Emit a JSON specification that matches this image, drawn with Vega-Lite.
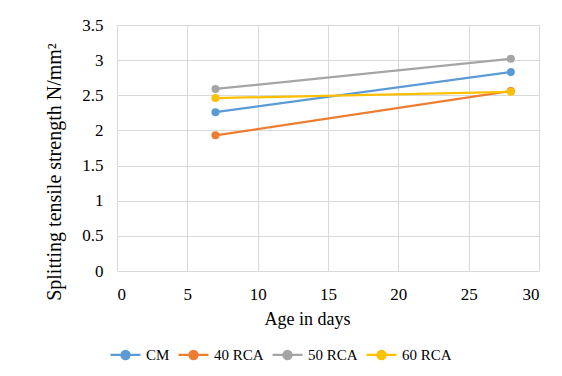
{
  "$schema": "https://vega.github.io/schema/vega-lite/v6.json",
  "width": 422,
  "height": 246,
  "autosize": "none",
  "padding": {"left": 117, "top": 25, "right": 23, "bottom": 105},
  "background": "white",
  "data": {
    "values": [
      {"mix": "CM", "age": 7, "strength": 2.26},
      {"mix": "CM", "age": 28, "strength": 2.83},
      {"mix": "40 RCA", "age": 7, "strength": 1.93},
      {"mix": "40 RCA", "age": 28, "strength": 2.56},
      {"mix": "50 RCA", "age": 7, "strength": 2.59},
      {"mix": "50 RCA", "age": 28, "strength": 3.02},
      {"mix": "60 RCA", "age": 7, "strength": 2.46},
      {"mix": "60 RCA", "age": 28, "strength": 2.55}
    ]
  },
  "mark": {"type": "line", "strokeWidth": 2.25, "point": {"filled": true, "size": 64, "opacity": 1}},
  "encoding": {
    "x": {
      "field": "age",
      "type": "quantitative",
      "scale": {"domain": [0, 30], "nice": false},
      "axis": {
        "values": [0, 5, 10, 15, 20, 25, 30],
        "title": "Age in days",
        "titleFont": "Liberation Serif",
        "titleFontSize": 18,
        "titleBaseline": "alphabetic",
        "titleX": 190,
        "titleY": 53,
        "labelFont": "Liberation Serif",
        "labelFontSize": 17,
        "labelPadding": 15
      }
    },
    "y": {
      "field": "strength",
      "type": "quantitative",
      "scale": {"domain": [0, 3.5], "nice": false},
      "axis": {
        "values": [0, 0.5, 1, 1.5, 2, 2.5, 3, 3.5],
        "format": "~g",
        "title": "Splitting tensile strength N/mm²",
        "titleFont": "Liberation Serif",
        "titleFontSize": 20,
        "titleX": -53,
        "titleY": 146.5,
        "labelFont": "Liberation Serif",
        "labelFontSize": 17,
        "labelPadding": 14
      }
    },
    "color": {
      "field": "mix",
      "type": "nominal",
      "scale": {
        "domain": ["CM", "40 RCA", "50 RCA", "60 RCA"],
        "range": ["#5B9BD5", "#ED7D31", "#A5A5A5", "#FFC000"]
      },
      "legend": {
        "title": null,
        "orient": "none",
        "direction": "horizontal",
        "legendX": -8,
        "legendY": 313,
        "symbolType": "M-1,0H1M-0.27,0A0.27,0.27 0 1,1 0.27,0A0.27,0.27 0 1,1 -0.27,0Z",
        "symbolSize": 900,
        "symbolStrokeWidth": 2.25,
        "labelOffset": 4,
        "columnPadding": 4,
        "labelExpr": "datum.label == 'CM' ? datum.label : datum.label + '  '",
        "labelFontSize": 15,
        "labelFont": "Liberation Serif",
        "labelFontWeight": "normal",
        "labelColor": "#000000",
        "encode": {
          "symbols": {
            "update": {
              "fill": {"scale": "color", "field": "value"},
              "stroke": {"scale": "color", "field": "value"},
              "fillOpacity": {"value": 1},
              "strokeOpacity": {"value": 1}
            }
          }
        }
      }
    }
  },
  "config": {
    "font": "Liberation Serif",
    "view": {"stroke": null},
    "axis": {
      "labelColor": "#000000",
      "titleColor": "#000000",
      "titleFontWeight": "normal",
      "domain": false,
      "ticks": false,
      "grid": true,
      "gridColor": "#d9d9d9",
      "gridWidth": 1
    }
  }
}
